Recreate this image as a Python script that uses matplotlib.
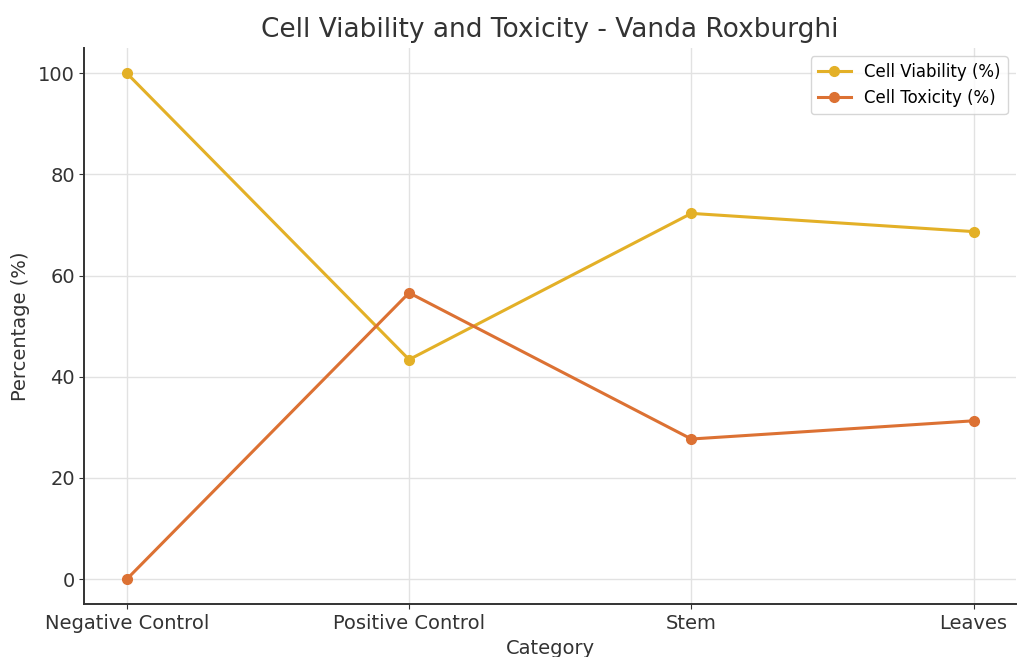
import matplotlib
matplotlib.use('Agg')
import matplotlib.pyplot as plt

categories = ['Negative Control', 'Positive Control', 'Stem', 'Leaves']
viability = [100, 43.4, 72.3, 68.7]
toxicity = [0, 56.6, 27.7, 31.3]

fig, ax = plt.subplots(figsize=(10.18, 6.57), dpi=100)

ax.plot(categories, viability, marker='o', color='#e3b027', lw=2.2, ms=7, label='Cell Viability (%)')
ax.plot(categories, toxicity, marker='o', color='#dc7133', lw=2.2, ms=7, label='Cell Toxicity (%)')

ax.set_title('Cell Viability and Toxicity - Vanda Roxburghi', fontsize=19, color='#333333', pad=8)
ax.set_xlabel('Category', fontsize=14, color='#333333', labelpad=4)
ax.set_ylabel('Percentage (%)', fontsize=14, color='#333333', labelpad=6)
ax.tick_params(labelsize=14, colors='#333333')
ax.grid(True, color='#e2e2e2', lw=1)
ax.set_axisbelow(True)
for s in ['top', 'right']:
    ax.spines[s].set_visible(False)
for s in ['left', 'bottom']:
    ax.spines[s].set_color('#333333')
    ax.spines[s].set_linewidth(1.4)

leg = ax.legend(loc='upper right', fontsize=12, frameon=True)
leg.get_frame().set_edgecolor('#cccccc')

fig.subplots_adjust(left=0.083, right=0.998, top=0.927, bottom=0.08)
fig.savefig('out.png', dpi=100)
